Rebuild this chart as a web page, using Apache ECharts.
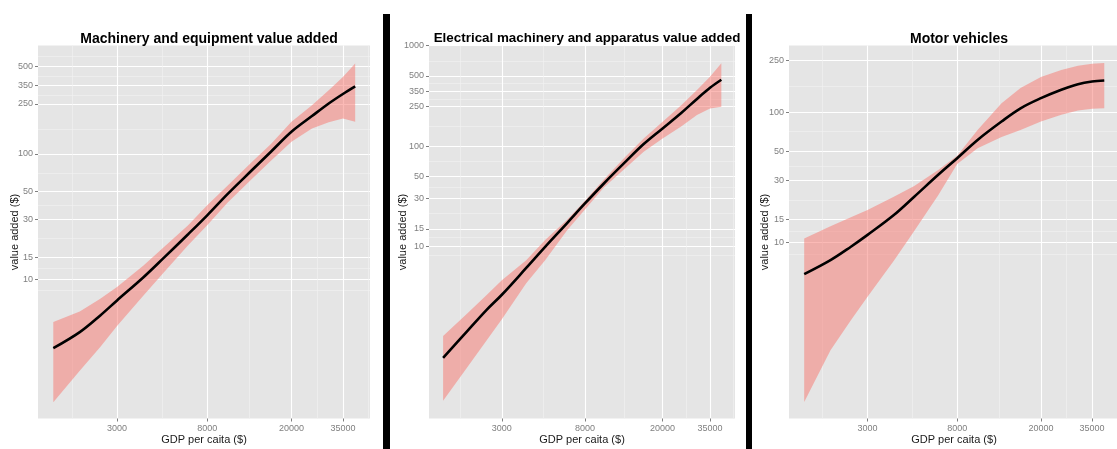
<!DOCTYPE html>
<html>
<head>
<meta charset="utf-8">
<script src="https://cdn.jsdelivr.net/npm/echarts@6/dist/echarts.min.js"></script>
<style>
  html, body { margin: 0; padding: 0; background: #fff; }
  #chart { width: 1117px; height: 449px; }
</style>
</head>
<body>
<div id="chart"></div>
<script>
// GDP per capita sample points (x, shared by all panels)
var gdp = [1500, 2000, 2500, 3000, 4000, 5000, 6500, 8000, 10000, 13000, 16000, 20000, 25000, 30000, 35000, 40000];

// Machinery and equipment
var machFit  = [2.83, 3.8, 5.16, 6.8, 10.4, 14.9, 22.9, 32.4, 48, 74, 104, 150, 200, 252, 300, 345];
var machLow  = [1.05, 1.87, 2.9, 4.25, 7.45, 11.4, 18.7, 27, 41, 63, 88, 125, 159, 179, 191, 180];
var machHigh = [4.57, 5.56, 7.0, 8.7, 12.9, 18.1, 27, 38.9, 56, 86, 120, 180, 244, 321, 410, 525];

// Electrical machinery and apparatus
var elecFit  = [0.775, 1.44, 2.32, 3.3, 6.1, 9.9, 17.2, 26.8, 42.4, 70.7, 104.7, 150, 215, 295, 381, 458];
var elecLow  = [0.29, 0.63, 1.15, 1.88, 4.3, 7.3, 14.6, 23.4, 38.7, 61.3, 87.7, 119, 158, 204, 237, 247];
var elecHigh = [1.28, 2.16, 3.27, 4.6, 7.3, 11.6, 18.6, 28.5, 46.5, 79.5, 119, 175, 256, 362, 491, 667];

// Motor vehicles
var motorFit  = [5.7, 7.3, 9.25, 11.4, 16.2, 22.4, 33, 44.3, 61.2, 84.7, 107, 128, 148.5, 164, 172, 175];
var motorLow  = [0.594, 1.48, 2.52, 3.82, 7.2, 12.2, 23, 40, 52.9, 64.3, 73, 84.7, 95.3, 102.8, 106, 107];
var motorHigh = [10.7, 13.3, 15.6, 17.7, 22.4, 27.1, 36, 46.2, 73, 117, 153, 186, 211, 227, 235, 238];

// tick labels
var xTicks = [3000, 8000, 20000, 35000];
var machTicks = [10, 15, 30, 50, 100, 250, 350, 500];
var elecTicks = [10, 15, 30, 50, 100, 250, 350, 500, 1000];
var motorTicks = [10, 15, 30, 50, 100, 250];

var FONT = 'Liberation Sans, Arial, sans-serif';
var panels = [
  { title: 'Machinery and equipment value added', titleSize: 14, left: 38, width: 332, yGap: 17.5,
    yMin: 0.78, yMax: 730, ticks: machTicks, fit: machFit, low: machLow, high: machHigh },
  { title: 'Electrical machinery and apparatus value added', titleSize: 13.4, left: 429, width: 306, yGap: 20.5,
    yMin: 0.193, yMax: 1005, ticks: elecTicks, fit: elecFit, low: elecLow, high: elecHigh },
  { title: 'Motor vehicles', titleSize: 14, left: 789, width: 330, yGap: 18.5,
    yMin: 0.443, yMax: 325, ticks: motorTicks, fit: motorFit, low: motorLow, high: motorHigh }
];
var xMin = 1270, xMax = 47000;

// ggplot-like minor breaks: midpoints (in log space) between majors, extended by one step at each end
function minorBreaks(majors, lo, hi) {
  var b = majors.slice();
  if (lo < b[0]) b.unshift(b[0] * b[0] / b[1]);
  var n = b.length;
  if (hi > b[n - 1]) b.push(b[n - 1] * b[n - 1] / b[n - 2]);
  var out = [];
  for (var i = 0; i < b.length - 1; i++) {
    var m = Math.sqrt(b[i] * b[i + 1]);
    if (m > lo && m < hi) out.push(m);
  }
  return out;
}

var grids = [], xAxes = [], yAxes = [], series = [], titles = [];
panels.forEach(function (p, g) {
  grids.push({ left: p.left, top: 45.5, width: p.width, height: 373, show: true,
    backgroundColor: '#E5E5E5', borderWidth: 0, outerBoundsMode: 'none', containLabel: false });
  titles.push({ text: p.title, left: p.left + p.width / 2, top: 27, textAlign: 'center',
    textStyle: { fontFamily: FONT, fontSize: p.titleSize, fontWeight: 'bold', color: '#000' } });

  // minor grid axes (drawn first)
  xAxes.push({ type: 'log', gridIndex: g, position: 'bottom', min: xMin, max: xMax,
    axisLine: { show: false }, axisLabel: { show: false },
    axisTick: { show: false, customValues: minorBreaks(xTicks, xMin, xMax) },
    splitLine: { show: true, lineStyle: { color: '#F2F2F2', width: 0.6 } } });
  yAxes.push({ type: 'log', gridIndex: g, position: 'left', min: p.yMin, max: p.yMax,
    axisLine: { show: false }, axisLabel: { show: false },
    axisTick: { show: false, customValues: minorBreaks(p.ticks, p.yMin, p.yMax) },
    splitLine: { show: true, lineStyle: { color: '#F2F2F2', width: 0.6 } } });

  // major axes
  xAxes.push({ type: 'log', gridIndex: g, position: 'bottom', min: xMin, max: xMax,
    name: 'GDP per caita ($)', nameLocation: 'middle', nameGap: 16, nameMoveOverlap: false,
    nameTextStyle: { fontFamily: FONT, fontSize: 11, color: '#1a1a1a' },
    axisLine: { show: false },
    axisTick: { show: true, length: 3, customValues: xTicks, lineStyle: { color: '#7F7F7F' } },
    axisLabel: { customValues: xTicks, margin: 6, fontFamily: FONT, fontSize: 9, color: '#7F7F7F',
      formatter: function (v) { return String(Math.round(v)); } },
    splitLine: { show: true, lineStyle: { color: '#FFFFFF', width: 1.1 } } });
  yAxes.push({ type: 'log', gridIndex: g, position: 'left', min: p.yMin, max: p.yMax,
    name: 'value added ($)', nameLocation: 'middle', nameGap: p.yGap, nameMoveOverlap: false,
    nameTextStyle: { fontFamily: FONT, fontSize: 11, color: '#1a1a1a' },
    axisLine: { show: false },
    axisTick: { show: true, length: 3, customValues: p.ticks, lineStyle: { color: '#7F7F7F' } },
    axisLabel: { customValues: p.ticks, margin: 5, fontFamily: FONT, fontSize: 9, color: '#7F7F7F',
      formatter: function (v) { return String(Math.round(v)); } },
    splitLine: { show: true, lineStyle: { color: '#FFFFFF', width: 1.1 } } });

  var ax = g * 2 + 1;
  series.push({
    type: 'custom', xAxisIndex: ax, yAxisIndex: ax, silent: true,
    data: gdp.map(function (x, i) { return [x, p.low[i], p.high[i]]; }),
    renderItem: function (params, api) {
      if (params.dataIndex !== 0) return;
      var pts = [], i;
      for (i = 0; i < gdp.length; i++) pts.push(api.coord([gdp[i], p.high[i]]));
      for (i = gdp.length - 1; i >= 0; i--) pts.push(api.coord([gdp[i], p.low[i]]));
      return { type: 'polygon', shape: { points: pts },
        style: { fill: 'rgba(248,118,109,0.5)' } };
    }
  });
  series.push({
    type: 'line', xAxisIndex: ax, yAxisIndex: ax, smooth: 0.35, symbol: 'none', silent: true,
    data: gdp.map(function (x, i) { return [x, p.fit[i]]; }),
    lineStyle: { color: '#000', width: 2.6 }, z: 3
  });
});

var myChart = echarts.init(document.getElementById('chart'));
myChart.setOption({
  animation: false,
  title: titles,
  grid: grids,
  xAxis: xAxes,
  yAxis: yAxes,
  series: series,
  graphic: [
    { type: 'rect', shape: { x: 383, y: 14, width: 7, height: 435 }, style: { fill: '#000' } },
    { type: 'rect', shape: { x: 746, y: 14, width: 6, height: 435 }, style: { fill: '#000' } }
  ]
});
</script>
</body>
</html>
